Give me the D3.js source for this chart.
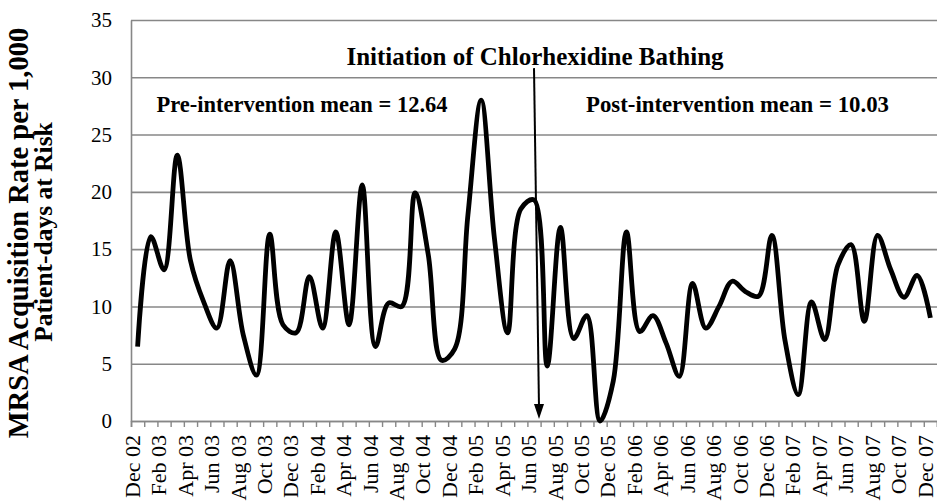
<!DOCTYPE html>
<html>
<head>
<meta charset="utf-8">
<script src="https://cdn.jsdelivr.net/npm/d3@7"></script>
<style>
  html, body { margin: 0; padding: 0; background: #fff; }
  svg { display: block; }
  text { font-family: "Liberation Serif", "Times New Roman", serif; }
</style>
</head>
<body>
<svg id="chart" width="937" height="501"></svg>
<script>
const months = [
  "Dec 02","Jan 03","Feb 03","Mar 03","Apr 03","May 03","Jun 03","Jul 03","Aug 03","Sep 03","Oct 03","Nov 03",
  "Dec 03","Jan 04","Feb 04","Mar 04","Apr 04","May 04","Jun 04","Jul 04","Aug 04","Sep 04","Oct 04","Nov 04",
  "Dec 04","Jan 05","Feb 05","Mar 05","Apr 05","May 05","Jun 05","Jul 05","Aug 05","Sep 05","Oct 05","Nov 05",
  "Dec 05","Jan 06","Feb 06","Mar 06","Apr 06","May 06","Jun 06","Jul 06","Aug 06","Sep 06","Oct 06","Nov 06",
  "Dec 06","Jan 07","Feb 07","Mar 07","Apr 07","May 07","Jun 07","Jul 07","Aug 07","Sep 07","Oct 07","Nov 07",
  "Dec 07"
];
const rates = [
  6.5, 16.1, 13.2, 23.2, 14.0, 10.4, 8.1, 14.0, 7.5, 4.0,
  16.3, 8.4, 7.7, 12.6, 8.1, 16.5, 8.4, 20.6, 6.5, 10.3,
  10.0, 19.9, 14.5, 5.3, 6.3, 18.0, 28.0, 16.0, 7.7, 18.5,
  19.3, 4.8, 16.9, 7.2, 9.2, 0.0, 3.5, 16.5, 7.8, 9.2,
  6.8, 3.9, 12.0, 8.1, 10.0, 12.2, 11.3, 10.9, 16.2, 7.0,
  2.3, 10.4, 7.1, 13.6, 15.4, 8.7, 16.2, 13.2, 10.8, 12.7,
  9.0
];
const yTicks = [0, 5, 10, 15, 20, 25, 30, 35];
const yTitleLines = ["MRSA Acquisition Rate per 1,000", "Patient-days at Risk"];
const interventionMonth = "Jun 05";
const annotationTitle = "Initiation of Chlorhexidine Bathing";
const preLabel = "Pre-intervention mean = 12.64";
const postLabel = "Post-intervention mean = 10.03";

const svg = d3.select("#chart");
const mLeft = 131, mRight = 937, mTop = 20, mBottom = 421;
const gridColor = "#878787";

const x = d3.scaleBand().domain(months).range([mLeft, mRight]).paddingInner(0).paddingOuter(0);
const xEdge = d3.scaleLinear().domain([0, months.length]).range([mLeft, mRight]);
const y = d3.scaleLinear().domain([0, 35]).range([mBottom, mTop]);

// gridlines
svg.append("g")
  .attr("transform", `translate(${mLeft},0)`)
  .call(d3.axisLeft(y).tickValues(yTicks).tickSize(-(mRight - mLeft)).tickFormat(""))
  .call(g => g.select(".domain").remove())
  .call(g => g.selectAll("line").attr("stroke", gridColor).attr("stroke-width", 1.6));

// y axis labels
svg.append("g")
  .attr("transform", `translate(${mLeft},0)`)
  .call(d3.axisLeft(y).tickValues(yTicks).tickSize(0).tickPadding(19))
  .call(g => g.select(".domain").attr("stroke", gridColor).attr("stroke-width", 1.6))
  .call(g => g.selectAll("text")
    .attr("font-family", "Liberation Serif").attr("font-size", 21).attr("fill", "#000"));

// x axis tick marks at category boundaries
svg.append("g")
  .attr("transform", `translate(0,${mBottom})`)
  .call(d3.axisBottom(xEdge).tickValues(d3.range(0, months.length + 1)).tickSize(6).tickFormat(""))
  .call(g => g.select(".domain").attr("stroke", gridColor).attr("stroke-width", 1.6))
  .call(g => g.selectAll("line").attr("stroke", gridColor).attr("stroke-width", 1.4));

// x axis labels
svg.append("g")
  .attr("transform", `translate(0,${mBottom})`)
  .call(d3.axisBottom(x).tickValues(months.filter((d, i) => i % 2 === 0)).tickSize(0).tickPadding(0))
  .call(g => g.select(".domain").remove())
  .call(g => g.selectAll("text")
    .attr("font-family", "Liberation Serif").attr("font-size", 22).attr("fill", "#000")
    .attr("transform", "rotate(-90)")
    .attr("text-anchor", "end")
    .attr("x", -14).attr("y", 0).attr("dy", "0.1em"));

// data line
const line = d3.line()
  .x((d, i) => x(months[i]) + x.bandwidth() / 2)
  .y(d => y(d))
  .curve(d3.curveCatmullRom.alpha(0.5));

svg.append("path")
  .datum(rates)
  .attr("fill", "none")
  .attr("stroke", "#000")
  .attr("stroke-width", 4.8)
  .attr("stroke-linejoin", "round")
  .attr("d", line);

// arrow
const ax = x(interventionMonth) + x.bandwidth() / 2;
svg.append("line")
  .attr("x1", ax).attr("y1", y(30.8))
  .attr("x2", ax + 5).attr("y2", y(1.2))
  .attr("stroke", "#000").attr("stroke-width", 2);
svg.append("path")
  .attr("d", `M${ax + 5},${y(0) - 2} L${ax},${y(0) - 17} L${ax + 10},${y(0) - 17} Z`)
  .attr("fill", "#000");

// annotations
svg.append("text")
  .attr("x", ax + 1).attr("y", 65)
  .attr("text-anchor", "middle")
  .attr("font-family", "Liberation Serif").attr("font-weight", "bold").attr("font-size", 25)
  .text(annotationTitle);

svg.append("text")
  .attr("x", 302).attr("y", 112)
  .attr("text-anchor", "middle")
  .attr("font-family", "Liberation Serif").attr("font-weight", "bold").attr("font-size", 22.5)
  .text(preLabel);

svg.append("text")
  .attr("x", 737.5).attr("y", 112)
  .attr("text-anchor", "middle")
  .attr("font-family", "Liberation Serif").attr("font-weight", "bold").attr("font-size", 22.8)
  .text(postLabel);

// y title
svg.append("text")
  .attr("transform", `translate(28,233) rotate(-90)`)
  .attr("text-anchor", "middle")
  .attr("font-family", "Liberation Serif").attr("font-weight", "bold").attr("font-size", 28.5)
  .text(yTitleLines[0]);
svg.append("text")
  .attr("transform", `translate(52,232) rotate(-90)`)
  .attr("text-anchor", "middle")
  .attr("font-family", "Liberation Serif").attr("font-weight", "bold").attr("font-size", 25.5)
  .text(yTitleLines[1]);
</script>
</body>
</html>
